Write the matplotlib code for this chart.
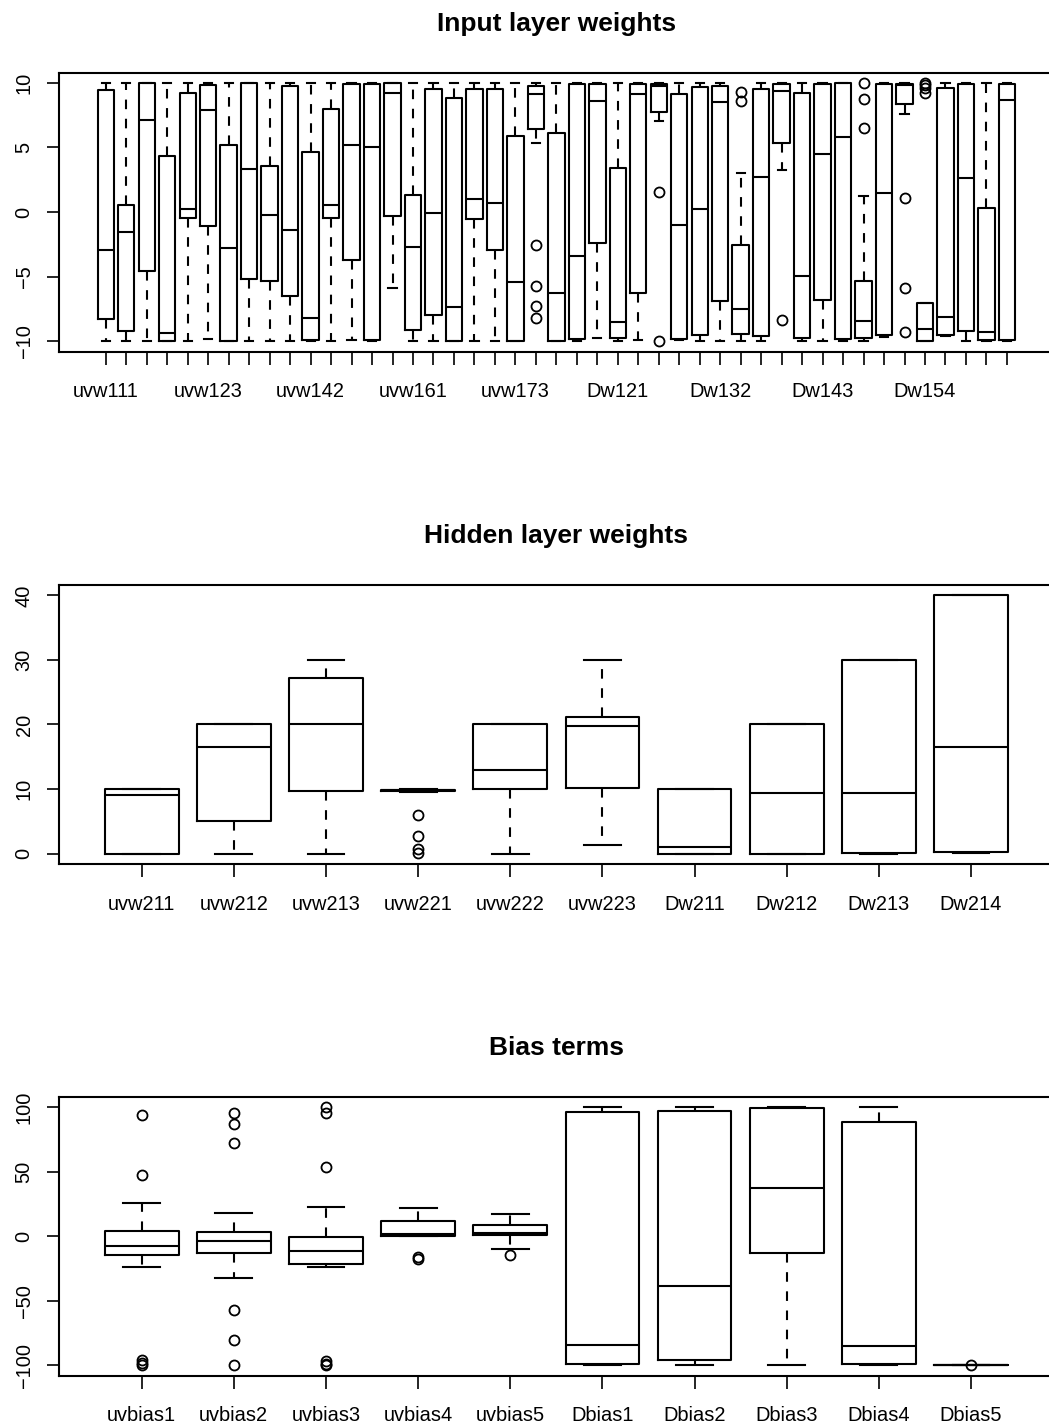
"""Boxplots of network weights and bias terms (input layer, hidden layer, biases)."""
import matplotlib
matplotlib.use("Agg")
import matplotlib.pyplot as plt

plt.rcParams["font.family"] = ["Liberation Sans", "DejaVu Sans"]

INK = "#000000"
LW = 1.5

# ---- input layer weights: 45 parameters ----
input_labels = ([f"uvw1{i}{j}" for i in range(1, 8) for j in range(1, 4)]
                + [f"Dw1{i}{j}" for i in range(1, 7) for j in range(1, 5)])
input_whislo = [-10, -10, -10, -10, -10, -9.8, -10, -10, -10, -10, -10, -10, -9.88, -10, -5.87,
                -10, -10, -10, -10, -10, -10, 5.33, -10, -10, -9.75, -9.96, -9.88, 7.04, -9.94, -10,
                -10, -10, -10, 3.26, -10, -10, -10, -10, -9.7, 7.58, -10, -9.6, -10, -10, -10]
input_q1 = [-8.3, -9.24, -4.58, -10, -0.44, -1.11, -10, -5.15, -5.33, -6.47, -9.94, -0.44, -3.73, -9.94, -0.28,
            -9.1, -7.94, -10, -0.57, -2.95, -10, 6.42, -10, -9.83, -2.41, -9.73, -6.29, 7.74, -9.8, -9.52,
            -6.91, -9.42, -9.57, 5.38, -9.75, -6.83, -9.86, -9.75, -9.5, 8.36, -10, -9.52, -9.21, -9.88, -9.88]
input_med = [-2.95, -1.53, 7.14, -9.37, 0.23, 7.89, -2.82, 3.31, -0.23, -1.4, -8.18, 0.52, 5.17, 5.07, 9.18,
             -2.74, -0.08, -7.35, 0.98, 0.72, -5.43, 9.13, -6.24, -3.44, 8.62, -8.54, 9.16, 9.78, -1.0, 0.2,
             8.51, -7.48, 2.69, 9.37, -4.97, 4.48, 5.77, -8.46, 1.5, 9.83, -9.06, -8.1, 2.61, -9.26, 8.69]
input_q3 = [9.47, 0.52, 10, 4.37, 9.18, 9.86, 5.17, 10, 3.6, 9.73, 4.68, 7.97, 9.94, 9.94, 10,
            1.35, 9.52, 8.82, 9.52, 9.52, 5.9, 9.78, 6.1, 9.94, 9.94, 3.39, 9.94, 9.91, 9.13, 9.68,
            9.73, -2.54, 9.52, 9.88, 9.24, 9.91, 10, -5.33, 9.91, 9.91, -7.04, 9.57, 9.88, 0.34, 9.94]
input_whishi = [10, 10, 10, 10, 10, 10, 10, 10, 10, 10, 10, 10, 10, 10, 10,
                10, 10, 10, 10, 10, 10, 10, 10, 10, 10, 10, 10, 10, 10, 10,
                10, 3.0, 10, 10, 10, 10, 10, 1.24, 10, 10, -7.04, 10, 10, 10, 10]
input_fliers = {21: [-2.59, -5.72, -7.27, -8.2], 27: [1.53, -10], 31: [9.29, 8.62], 33: [-8.33],
                37: [10, 8.75, 6.49], 39: [1.06, -5.87, -9.29], 40: [10, 9.8, 9.6, 9.2]}

# ---- hidden layer weights ----
hidden_labels = ["uvw211", "uvw212", "uvw213", "uvw221", "uvw222", "uvw223",
                 "Dw211", "Dw212", "Dw213", "Dw214"]
hidden_whislo = [0, 0, 0, 9.5, 0, 1.3, 0, 0, 0, 0.05]
hidden_q1 = [0, 5.12, 9.66, 9.7, 10, 10.2, 0, 0, 0.15, 0.3]
hidden_med = [9.1, 16.5, 20, 9.8, 12.9, 19.8, 1.1, 9.35, 9.4, 16.5]
hidden_q3 = [10, 20, 27.2, 9.9, 20, 21.2, 10, 20, 30, 40]
hidden_whishi = [10, 20, 30, 10, 20, 30, 10, 20, 30, 40]
hidden_fliers = {3: [6.0, 2.8, 0.7, 0.1]}

# ---- bias terms ----
bias_labels = ["uvbias1", "uvbias2", "uvbias3", "uvbias4", "uvbias5",
               "Dbias1", "Dbias2", "Dbias3", "Dbias4", "Dbias5"]
bias_whislo = [-23.7, -32, -24.2, 0, -9.7, -100, -100, -100, -100, -100]
bias_q1 = [-14.4, -13.3, -21.6, 0.4, 0.9, -99, -96.1, -13.3, -99.2, -100]
bias_med = [-7.4, -4.0, -11.5, 1.4, 2.7, -84.2, -38.7, 37.6, -85, -100]
bias_q3 = [4.0, 3.5, -0.4, 11.5, 8.4, 96.4, 96.9, 99, 88.1, -100]
bias_whishi = [25.7, 18.2, 22.6, 21.9, 17.5, 100, 100, 100, 100, -100]
bias_fliers = {0: [93.8, 47, -96, -98, -99.5], 1: [95.1, 86.8, 72.3, -57.3, -80.6, -100],
               2: [99.8, 95, 53.2, -97, -99, -100], 3: [-15.9, -18], 4: [-14.9], 9: [-99.6]}


def make_stats(labels, whislo, q1, med, q3, whishi, fliers):
    stats = []
    for k, lab in enumerate(labels):
        stats.append(dict(label=lab, whislo=whislo[k], q1=q1[k], med=med[k], q3=q3[k],
                          whishi=whishi[k], fliers=fliers.get(k, [])))
    return stats


def draw_panel(fig, rect, stats, title, ylim, yticks, label_every=1):
    ax = fig.add_axes(rect)
    n = len(stats)
    pos = list(range(1, n + 1))
    line = dict(color=INK, linewidth=LW)
    ax.bxp(stats, positions=pos, widths=0.8, capwidths=0.4,
           boxprops=line, medianprops=line, capprops=line,
           whiskerprops=dict(color=INK, linewidth=LW, linestyle=(0, (4.6, 4.6))),
           flierprops=dict(marker="o", markerfacecolor="none", markeredgecolor=INK,
                           markersize=7.2, markeredgewidth=1.3))
    span = n
    ax.set_xlim(0.5 - 0.04 * span, n + 0.5 + 0.04 * span)
    ax.set_ylim(*ylim)
    ax.set_xticks(pos)
    ax.set_xticklabels([s["label"] if k % label_every == 0 else "" for k, s in enumerate(stats)])
    ax.set_yticks(yticks)
    ax.tick_params(axis="both", direction="out", length=9, width=1.2, colors=INK, labelsize=14.4)
    ax.tick_params(axis="x", pad=13)
    ax.tick_params(axis="y", pad=9, labelrotation=90)
    for lab in ax.get_yticklabels():
        lab.set_va("center")
    for spine in ax.spines.values():
        spine.set_color(INK)
        spine.set_linewidth(LW)
    ax.set_title(title, fontsize=19, fontweight="bold", pad=30)
    return ax


def main():
    W, H = 1049, 1427
    fig = plt.figure(figsize=(W / 100, H / 100), dpi=100, facecolor="white")
    left = 58.7 / W
    width = (1054 - 58.7) / W
    height = 279 / H

    draw_panel(fig, [left, 1 - 351.5 / H, width, height],
               make_stats(input_labels, input_whislo, input_q1, input_med, input_q3, input_whishi, input_fliers),
               "Input layer weights", (-10.8, 10.8), [-10, -5, 0, 5, 10], label_every=5)
    draw_panel(fig, [left, 1 - 864 / H, width, height],
               make_stats(hidden_labels, hidden_whislo, hidden_q1, hidden_med, hidden_q3, hidden_whishi, hidden_fliers),
               "Hidden layer weights", (-1.6, 41.6), [0, 10, 20, 30, 40])
    draw_panel(fig, [left, 1 - 1375.7 / H, width, height],
               make_stats(bias_labels, bias_whislo, bias_q1, bias_med, bias_q3, bias_whishi, bias_fliers),
               "Bias terms", (-108, 108), [-100, -50, 0, 50, 100])

    fig.savefig("out.png", dpi=100, facecolor="white")
    plt.close(fig)


if __name__ == "__main__":
    main()
